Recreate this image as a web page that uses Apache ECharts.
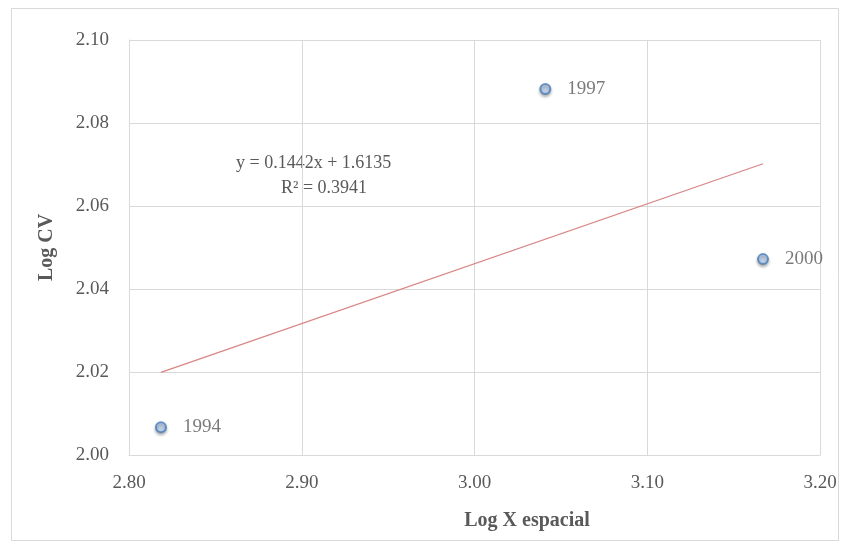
<!DOCTYPE html>
<html><head><meta charset="utf-8">
<script src="https://cdn.jsdelivr.net/npm/echarts@6/dist/echarts.min.js"></script>
<style>html,body{margin:0;padding:0;background:#fff}#c{width:848px;height:544px}</style>
</head><body><div id="c"></div>
<script>
var years = ['1994', '1997', '2000'];
var logX = [2.8185, 3.041, 3.167];
var logCV = [2.0067, 2.0882, 2.0472];
var slope = 0.1442, intercept = 1.6135;
var trendX = [2.8185, 3.167];
var eqText = 'y = 0.1442x + 1.6135';
var r2Text = 'R² = 0.3941';
var xTitle = 'Log X espacial';
var yTitle = 'Log CV';

var pts = logX.map(function(x, i){ return {value:[x, logCV[i]], name: years[i]}; });
var trend = trendX.map(function(x){ return [x, slope * x + intercept]; });
var font = '"Liberation Serif", "Times New Roman", serif';
var chart = echarts.init(document.getElementById('c'));
chart.setOption({
  animation: false,
  backgroundColor: '#fff',
  grid: {left: 129, top: 40, right: 28, bottom: 89},
  xAxis: {type: 'value', min: 2.8, max: 3.2, interval: 0.1,
    axisLine: {show: true, lineStyle: {color: '#d9d9d9'}}, axisTick: {show: false},
    axisLabel: {fontFamily: font, fontSize: 19, color: '#595959', margin: 19, formatter: function(v){return v.toFixed(2);}},
    splitLine: {show: true, lineStyle: {color: '#d9d9d9'}}},
  yAxis: {type: 'value', min: 2.0, max: 2.1, interval: 0.02,
    name: yTitle, nameLocation: 'middle', nameGap: 72,
    nameTextStyle: {fontFamily: font, fontSize: 20, fontWeight: 'bold', color: '#595959'},
    axisLine: {show: true, lineStyle: {color: '#d9d9d9'}}, axisTick: {show: false},
    axisLabel: {fontFamily: font, fontSize: 19, color: '#595959', margin: 20, formatter: function(v){return v.toFixed(2);}},
    splitLine: {show: true, lineStyle: {color: '#d9d9d9'}}},
  graphic: [
    {type: 'rect', shape: {x: 11.5, y: 8.5, width: 827, height: 532}, style: {fill: 'none', stroke: '#d9d9d9', lineWidth: 1}, silent: true, z: -1},
    {type: 'text', left: 236, top: 154, style: {text: eqText, font: '18px ' + font, fill: '#595959'}},
    {type: 'text', left: 281, top: 179, style: {text: r2Text, font: '18px ' + font, fill: '#595959'}},
    {type: 'text', x: 527, y: 521, style: {text: xTitle, font: 'bold 20px ' + font, fill: '#595959', textAlign: 'center', textVerticalAlign: 'middle'}}
  ],
  series: [
    {type: 'line', data: trend, symbol: 'none', lineStyle: {color: '#d98585', width: 1.3}, z: 1},
    {type: 'scatter', data: pts, symbol: 'circle', symbolSize: 10,
      itemStyle: {color: '#bdd3f0', borderColor: '#4a7ebb', borderWidth: 2, shadowBlur: 3, shadowOffsetY: 2, shadowColor: 'rgba(0,0,0,0.35)'},
      label: {show: true, position: 'right', distance: 16, formatter: '{b}', fontFamily: font, fontSize: 19, color: '#595959'}, z: 3}
  ]
});
</script></body></html>
